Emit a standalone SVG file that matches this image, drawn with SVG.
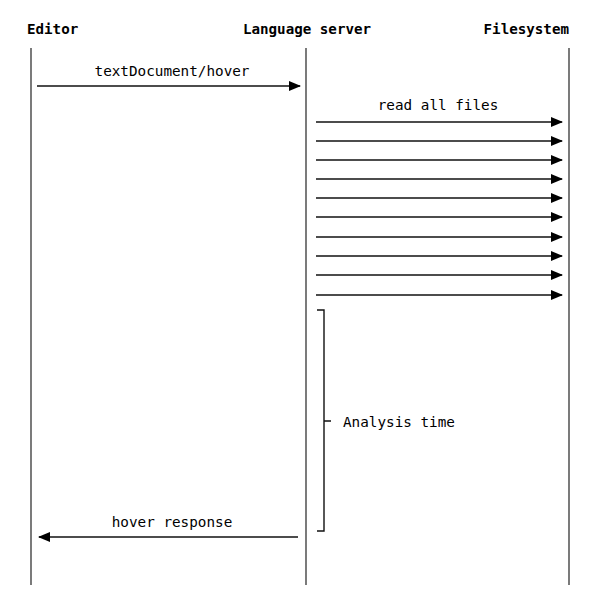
<svg xmlns="http://www.w3.org/2000/svg" width="603" height="603" viewBox="0 0 603 603">
<style>
.life{stroke:#222;stroke-width:1.2;fill:none}
.br{stroke:#111;stroke-width:1.4;fill:none}
.msg{stroke:#111;stroke-width:1.3;fill:none}
.hdr{font-family:"DejaVu Sans Mono","Liberation Mono",monospace;font-weight:bold;font-size:14.2px;fill:#000}
.lbl{font-family:"DejaVu Sans Mono","Liberation Mono",monospace;font-size:14.3px;fill:#000}
</style>
<defs>
<marker id="ah" markerWidth="12" markerHeight="10" refX="11" refY="5" orient="auto" markerUnits="userSpaceOnUse">
<path d="M0,0 L12,5 L0,10 Z" fill="#000"/>
</marker>
</defs>
<rect width="603" height="603" fill="#fff"/>
<g id="editor">
<text class="hdr" x="27" y="34">Editor</text>
<line class="life" x1="31" y1="48" x2="31" y2="585"/>
</g>
<g id="language-server">
<text class="hdr" x="307" y="34" text-anchor="middle">Language server</text>
<line class="life" x1="306" y1="48" x2="306" y2="585"/>
</g>
<g id="filesystem">
<text class="hdr" x="569" y="34" text-anchor="end">Filesystem</text>
<line class="life" x1="569" y1="48" x2="569" y2="585"/>
</g>
<g id="analysis">
<path class="br" d="M317,310 L324,310 L324,531 L317,531 M324,421 L331,421"/>
<text class="lbl" x="343" y="427">Analysis time</text>
</g>
<g id="connectors">
<line class="msg" x1="37" y1="86" x2="300" y2="86" marker-end="url(#ah)"/>
<text class="lbl" x="172" y="76" text-anchor="middle">textDocument/hover</text>
<text class="lbl" x="438" y="110" text-anchor="middle">read all files</text>
<line class="msg" x1="316" y1="122" x2="562" y2="122" marker-end="url(#ah)"/>
<line class="msg" x1="316" y1="141" x2="562" y2="141" marker-end="url(#ah)"/>
<line class="msg" x1="316" y1="160" x2="562" y2="160" marker-end="url(#ah)"/>
<line class="msg" x1="316" y1="179" x2="562" y2="179" marker-end="url(#ah)"/>
<line class="msg" x1="316" y1="198" x2="562" y2="198" marker-end="url(#ah)"/>
<line class="msg" x1="316" y1="217" x2="562" y2="217" marker-end="url(#ah)"/>
<line class="msg" x1="316" y1="237" x2="562" y2="237" marker-end="url(#ah)"/>
<line class="msg" x1="316" y1="256" x2="562" y2="256" marker-end="url(#ah)"/>
<line class="msg" x1="316" y1="275" x2="562" y2="275" marker-end="url(#ah)"/>
<line class="msg" x1="316" y1="295" x2="562" y2="295" marker-end="url(#ah)"/>
<line class="msg" x1="298" y1="537" x2="39" y2="537" marker-end="url(#ah)"/>
<text class="lbl" x="172" y="527" text-anchor="middle">hover response</text>
</g>
</svg>
